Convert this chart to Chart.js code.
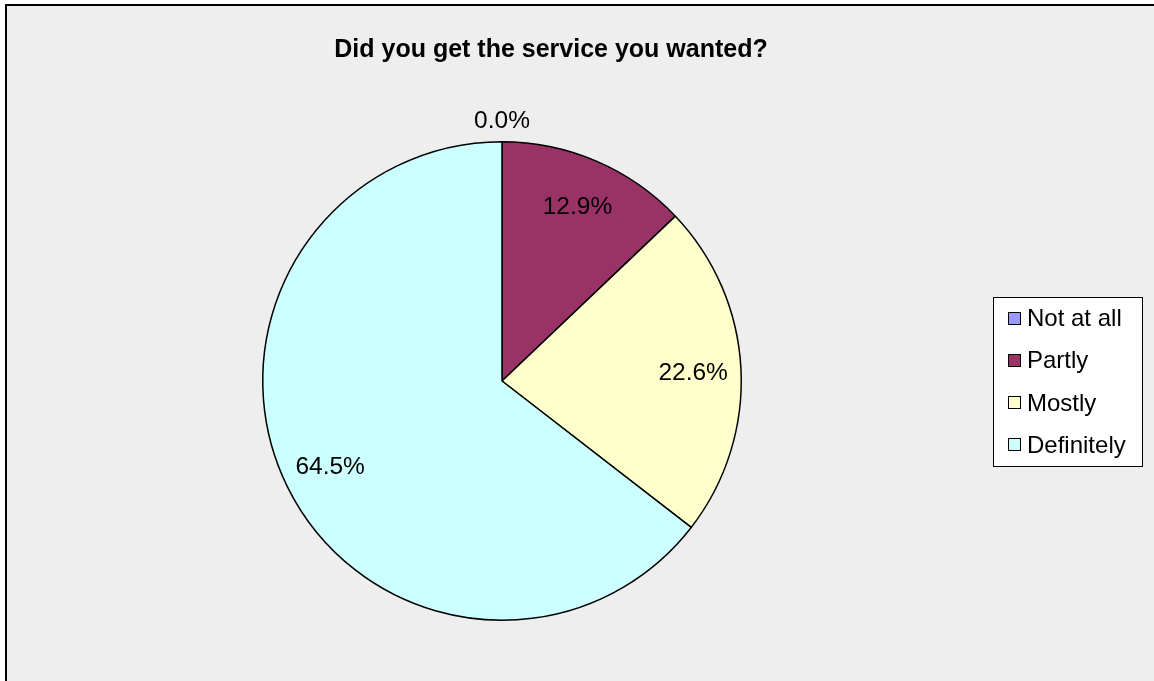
<!DOCTYPE html>
<html lang="en"><head><meta charset="UTF-8"><title>Did you get the service you wanted?</title>
<style>
  html,body{margin:0;padding:0;background:#fff;overflow:hidden;}
  canvas{display:block;}
</style>
<script src="https://cdn.jsdelivr.net/npm/chart.js"></script>
</head><body>
<canvas id="pie" width="1154" height="681"></canvas>
<script>
  const title   = 'Did you get the service you wanted?';
  const labels  = ['Not at all', 'Partly', 'Mostly', 'Definitely'];
  const counts  = [0, 4, 7, 20];
  const colours = ['#9999FF', '#993366', '#FFFFCC', '#CCFFFF'];

  const FONT = '"Liberation Sans", Arial, sans-serif';

  // frame + grey plot background
  const frame = {
    id: 'frame',
    beforeDraw(chart) {
      const ctx = chart.ctx;
      ctx.save();
      ctx.fillStyle = '#fff';
      ctx.fillRect(0, 0, chart.width, chart.height);
      ctx.fillStyle = '#000';
      ctx.fillRect(5, 4, chart.width, chart.height);
      ctx.fillStyle = '#EEEEEE';
      ctx.fillRect(7, 6, chart.width, chart.height);
      ctx.restore();
    }
  };

  // title, percentage labels and the boxed legend
  const extras = {
    id: 'extras',
    afterDraw(chart) {
      const ctx = chart.ctx;
      const total = counts.reduce((s, v) => s + v, 0);
      ctx.save();

      ctx.fillStyle = '#000';
      ctx.textAlign = 'center';
      ctx.textBaseline = 'alphabetic';
      ctx.font = 'bold 25px ' + FONT;
      ctx.fillText(title, 551, 57);

      ctx.font = '24.5px ' + FONT;
      chart.getDatasetMeta(0).data.forEach((arc, i) => {
        const { x, y, startAngle, endAngle, outerRadius } = arc.getProps(['x', 'y', 'startAngle', 'endAngle', 'outerRadius'], true);
        const mid = (startAngle + endAngle) / 2;
        const r = counts[i] === 0 ? outerRadius + 22 : outerRadius * 0.8;
        const lx = x + Math.cos(mid) * r;
        const ly = y + Math.sin(mid) * r;
        const txt = (counts[i] / total * 100).toFixed(1) + '%';
        ctx.fillText(txt, lx, ly + 8.5);
      });

      // legend
      ctx.font = '24px ' + FONT;
      const bx = 993, by = 297, bw = 149, bh = 169;
      ctx.fillStyle = '#fff';
      ctx.fillRect(bx, by, bw, bh);
      ctx.strokeStyle = '#000';
      ctx.lineWidth = 1;
      ctx.strokeRect(bx + 0.5, by + 0.5, bw, bh);
      ctx.textAlign = 'left';
      labels.forEach((lab, i) => {
        const cy = 317.5 + i * 42.3;
        ctx.fillStyle = colours[i];
        ctx.fillRect(1008, Math.round(cy - 6), 12, 12);
        ctx.strokeRect(1008.5, Math.round(cy - 6) + 0.5, 12, 12);
        ctx.fillStyle = '#000';
        ctx.fillText(lab, 1027, cy + 8.5);
      });
      ctx.restore();
    }
  };

  new Chart(document.getElementById('pie'), {
    type: 'pie',
    data: {
      labels,
      datasets: [{
        data: counts,
        backgroundColor: colours,
        borderColor: '#000',
        borderWidth: 1.5
      }]
    },
    options: {
      responsive: false,
      animation: false,
      layout: { padding: { left: 262, top: 141, right: 412, bottom: 60 } },
      plugins: {
        legend: { display: false },
        tooltip: { enabled: false }
      }
    },
    plugins: [frame, extras]
  });
</script>
</body></html>
